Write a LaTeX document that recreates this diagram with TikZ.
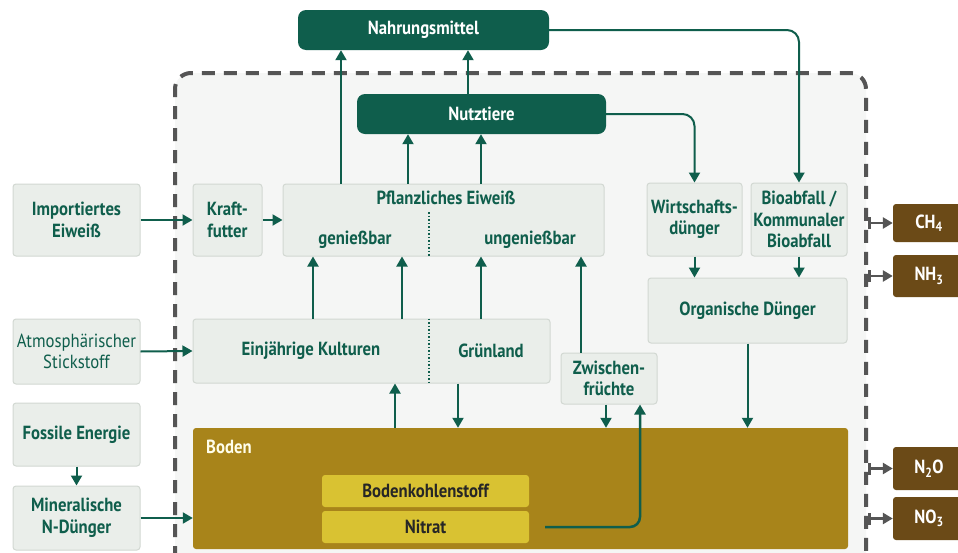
\documentclass[tikz,border=0pt]{standalone}
\usepackage{fontspec}
\setmainfont[FakeStretch=0.88]{PT Sans}
\usetikzlibrary{arrows.meta}
\definecolor{dkgreen}{HTML}{0F5E4C}
\definecolor{boxfill}{HTML}{EAEEEA}
\definecolor{boxline}{HTML}{D2D8D2}
\definecolor{innerbg}{HTML}{F5F6F5}
\definecolor{bodenc}{HTML}{A8841A}
\definecolor{soilc}{HTML}{D9C232}
\definecolor{brownc}{HTML}{6B4A17}
\definecolor{grayc}{HTML}{555555}
\newcommand{\bxfont}{\fontsize{19}{21.5}\selectfont}
\tikzset{
  box/.style={draw=boxline, fill=boxfill, line width=1pt, rounded corners=3pt, text=dkgreen,
    font=\bfseries\bxfont, align=center, inner sep=0pt},
  lbl/.style={text=dkgreen, font=\bfseries\bxfont, inner sep=0pt},
  darkbox/.style={fill=dkgreen, rounded corners=8pt, text=white,
    font=\bfseries\bxfont, align=center, inner sep=0pt},
  soilbox/.style={fill=soilc, rounded corners=3pt, text=black!85,
    font=\bfseries\bxfont, inner sep=0pt, minimum width=207pt, minimum height=32pt},
  outbox/.style={fill=brownc, rounded corners=3pt, text=white,
    font=\bfseries\bxfont, inner sep=0pt, minimum width=72pt},
  flow/.style={draw=dkgreen, line width=2pt, -{Triangle[length=10pt,width=11pt]}},
  outflow/.style={draw=grayc, line width=2.5pt, {Bar[width=12pt]}-{Triangle[length=10pt,width=11pt]}},
}
\begin{document}
\begin{tikzpicture}[x=1pt,y=-1pt]
\useasboundingbox[fill=white] (0,0) rectangle (958,552);
% system boundary
\draw[grayc, fill=innerbg, line width=4pt, dash pattern=on 13pt off 9pt, rounded corners=16pt]
  (175,575) -- (175,73) -- (866,73) -- (866,575) -- cycle;
% left external boxes
\node[box, minimum width=127pt, minimum height=72pt] (imp) at (76.5,220) {Importiertes\\Eiweiß};
\node[box, font=\bxfont, minimum width=127pt, minimum height=65pt] (atm) at (76.5,351.5) {Atmosphärischer\\Stickstoff};
\node[box, minimum width=127pt, minimum height=63pt] (fos) at (76.5,434.5) {Fossile Energie};
\node[box, minimum width=127pt, minimum height=64pt] (min) at (76.5,518) {Mineralische\\N-Dünger};
% inner boxes
\node[box, minimum width=69pt, minimum height=72pt] (kraft) at (227.5,220) {Kraft-\\futter};
\node[box, minimum width=321pt, minimum height=72pt] (pflanz) at (443.5,220) {};
\node[lbl] (pe) at (446,198) {Pflanzliches Eiweiß};
\node[lbl] (gen) at (355,240) {genießbar};
\node[lbl] (ung) at (530,240) {ungenießbar};
\coordinate (xd) at (429,0);
\draw[dkgreen, line width=1.5pt, dotted] (429,212) -- (xd |- pflanz.south);
\node[box, minimum width=357pt, minimum height=64pt] (einj) at (371.5,351) {};
\node[lbl] (ek) at (311,351) {Einjährige Kulturen};
\node[lbl] (gr) at (491,351) {Grünland};
\draw[dkgreen, line width=1.5pt, dotted] (xd |- einj.north) -- (xd |- einj.south);
\node[box, minimum width=96pt, minimum height=51pt] (zw) at (609,378.5) {Zwischen-\\früchte};
\node[box, minimum width=95pt, minimum height=73pt] (wd) at (694.5,219.5) {Wirtschafts-\\dünger};
\node[box, minimum width=96pt, minimum height=73pt] (bio) at (799,219.5) {Bioabfall /\\Kommunaler\\Bioabfall};
\node[box, minimum width=199pt, minimum height=65pt] (org) at (747.5,310.5) {Organische Dünger};
\node[darkbox, minimum width=251pt, minimum height=40pt] (nahr) at (423.5,30) {Nahrungsmittel};
\node[darkbox, minimum width=249pt, minimum height=40pt] (nutz) at (481.5,114) {Nutztiere};
% soil
\node[fill=bodenc, rounded corners=3pt, minimum width=655pt, minimum height=121pt, inner sep=0pt] (boden) at (520.5,488.5) {};
\node[anchor=west, text=white!92!yellow, font=\bfseries\bxfont, inner sep=0pt] (bl) at (206,447) {Boden};
\node[soilbox] (bk) at (425.5,491) {Bodenkohlenstoff};
\node[soilbox] (nit) at (425.5,527) {Nitrat};
% outputs
\node[outbox, minimum height=38pt] (ch4) at (929,223) {CH\textsubscript{4}};
\node[outbox, minimum height=42pt] (nh3) at (929,276) {NH\textsubscript{3}};
\node[outbox, minimum height=43pt] (n2o) at (929,468.5) {N\textsubscript{2}O};
\node[outbox, minimum height=43pt] (no3) at (929,518.5) {NO\textsubscript{3}};
\coordinate (xb) at (868,0);
\draw[outflow] (xb |- ch4.west) -- (ch4.west);
\draw[outflow] (xb |- nh3.west) -- (nh3.west);
\draw[outflow] (xb |- n2o.west) -- (n2o.west);
\draw[outflow] (xb |- no3.west) -- (no3.west);
% flows
\draw[flow] (imp.east) -- (kraft.west);
\draw[flow] (kraft.east) -- (pflanz.west);
\draw[flow] (atm.east) -- (einj.west);
\draw[flow] (fos.south) -- (min.north);
\draw[flow] (min.east) -- (boden.west |- min.east);
\coordinate (x341) at (341,0);
\coordinate (x468) at (468,0);
\coordinate (x408) at (408,0);
\coordinate (x481) at (481,0);
\coordinate (x313) at (313,0);
\coordinate (x402) at (402,0);
\coordinate (x581) at (581,0);
\coordinate (x395) at (395,0);
\coordinate (x458) at (458,0);
\coordinate (x606) at (606,0);
\coordinate (x640) at (640,0);
\draw[flow] (x341 |- pflanz.north) -- (x341 |- nahr.south);
\draw[flow] (x468 |- nutz.north) -- (x468 |- nahr.south);
\draw[flow] (x408 |- pflanz.north) -- (x408 |- nutz.south);
\draw[flow] (x481 |- pflanz.north) -- (x481 |- nutz.south);
\draw[flow] (x313 |- einj.north) -- (x313 |- pflanz.south);
\draw[flow] (x402 |- einj.north) -- (x402 |- pflanz.south);
\draw[flow] (x481 |- einj.north) -- (x481 |- pflanz.south);
\draw[flow] (x581 |- zw.north) -- (x581 |- pflanz.south);
\draw[flow] (x395 |- boden.north) -- (x395 |- einj.south);
\draw[flow] (x458 |- einj.south) -- (x458 |- boden.north);
\draw[flow] (x606 |- zw.south) -- (x606 |- boden.north);
\draw[flow, line width=2.5pt, rounded corners=10pt] ([xshift=16pt]nit.east) -- (x640 |- nit.east) -- (x640 |- zw.south);
\draw[flow, rounded corners=12pt] (nutz.east) -- (wd.north |- nutz.east) -- (wd.north);
\draw[flow, rounded corners=12pt] (nahr.east) -- (bio.north |- nahr.east) -- (bio.north);
\draw[flow] (wd.south) -- (wd.south |- org.north);
\draw[flow] (bio.south) -- (bio.south |- org.north);
\draw[flow] (org.south) -- (org.south |- boden.north);
\end{tikzpicture}
\end{document}
